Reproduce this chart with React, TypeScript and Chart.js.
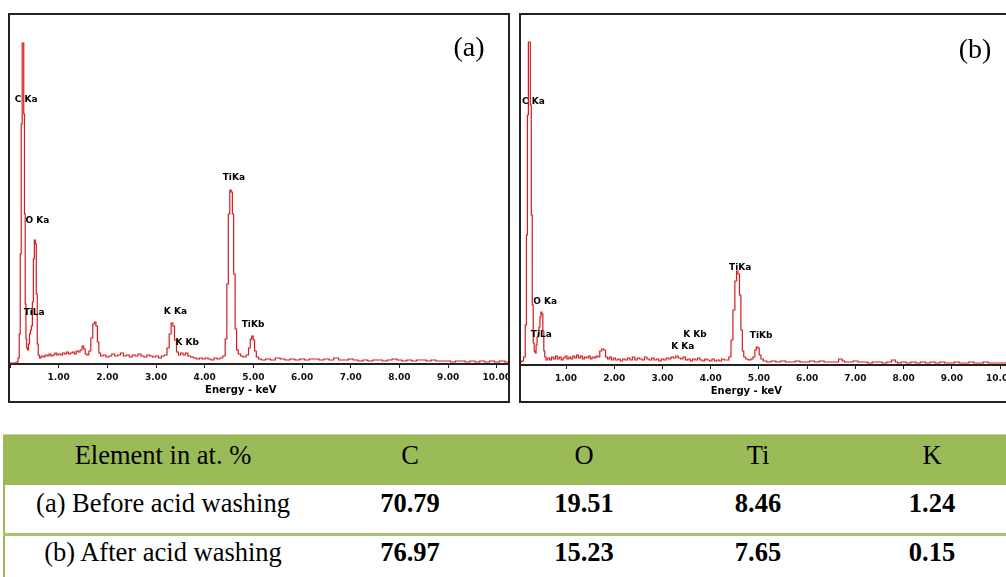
import React, { useEffect, useRef } from "react";
import { Chart, registerables } from "chart.js";

Chart.register(...registerables);

// EDS spectrum (a) before acid washing: [energy keV, counts (arb.)]
const spectrumA: [number, number][] = [
  [0.0, 1], [0.1, 1], [0.15, 2], [0.18, 6], [0.2, 30], [0.22, 110], [0.24, 240], [0.26, 321], [0.275, 321],
  [0.29, 250], [0.305, 150], [0.32, 60], [0.335, 25], [0.35, 16], [0.37, 14], [0.39, 20], [0.41, 30], [0.43, 34],
  [0.45, 38], [0.47, 62], [0.49, 105], [0.51, 124], [0.53, 120], [0.55, 70], [0.57, 20], [0.59, 9], [0.62, 6],
  [0.66, 8], [0.7, 7], [0.74, 9], [0.78, 8], [0.82, 10], [0.86, 8], [0.9, 9], [0.94, 11], [0.98, 9], [1.02, 10],
  [1.06, 9], [1.1, 11], [1.14, 10], [1.18, 12], [1.22, 10], [1.26, 11], [1.3, 12], [1.34, 10], [1.38, 13],
  [1.42, 12], [1.46, 14], [1.5, 18], [1.53, 15], [1.56, 10], [1.6, 9], [1.64, 13], [1.68, 26], [1.72, 40],
  [1.75, 42], [1.78, 38], [1.81, 22], [1.84, 11], [1.88, 8], [1.94, 9], [2.0, 7], [2.06, 8], [2.12, 10],
  [2.18, 8], [2.24, 9], [2.3, 11], [2.36, 8], [2.42, 9], [2.48, 7], [2.54, 9], [2.6, 8], [2.66, 10], [2.72, 8],
  [2.78, 7], [2.84, 9], [2.9, 8], [2.96, 7], [3.02, 8], [3.08, 6], [3.14, 8], [3.2, 9], [3.25, 16], [3.29, 30],
  [3.33, 41], [3.36, 38], [3.4, 24], [3.44, 12], [3.48, 9], [3.53, 11], [3.58, 9], [3.63, 11], [3.68, 8],
  [3.74, 7], [3.8, 6], [3.86, 5], [3.92, 6], [3.98, 5], [4.04, 6], [4.1, 5], [4.16, 4], [4.22, 6], [4.28, 5],
  [4.34, 6], [4.4, 8], [4.44, 25], [4.47, 80], [4.5, 150], [4.53, 174], [4.555, 172], [4.58, 150], [4.61, 90],
  [4.64, 35], [4.67, 14], [4.71, 10], [4.76, 8], [4.82, 7], [4.88, 9], [4.92, 16], [4.95, 25], [4.98, 28],
  [5.01, 24], [5.04, 13], [5.08, 7], [5.13, 5], [5.2, 4], [5.3, 5], [5.4, 4], [5.5, 6], [5.6, 5], [5.7, 4],
  [5.8, 5], [5.9, 4], [6.0, 5], [6.1, 4], [6.2, 5], [6.3, 5], [6.4, 4], [6.5, 5], [6.6, 4], [6.7, 6], [6.8, 4],
  [6.9, 4], [7.0, 5], [7.1, 4], [7.2, 3], [7.3, 4], [7.4, 3], [7.5, 4], [7.6, 4], [7.7, 3], [7.8, 4], [7.9, 5],
  [8.0, 4], [8.1, 3], [8.2, 4], [8.3, 3], [8.4, 4], [8.5, 4], [8.6, 3], [8.7, 4], [8.8, 3], [8.9, 3], [9.0, 3],
  [9.1, 2], [9.2, 3], [9.3, 3], [9.4, 2], [9.5, 3], [9.6, 2], [9.7, 3], [9.8, 2], [9.9, 3], [10.0, 2],
  [10.1, 3], [10.23, 2],
];

// EDS spectrum (b) after acid washing
const spectrumB: [number, number][] = [
  [0.06, 3], [0.1, 4], [0.14, 8], [0.17, 40], [0.19, 130], [0.21, 250], [0.23, 323], [0.25, 323], [0.27, 260],
  [0.29, 150], [0.31, 60], [0.33, 22], [0.35, 14], [0.37, 12], [0.39, 20], [0.41, 28], [0.43, 30], [0.45, 38],
  [0.47, 48], [0.49, 53], [0.51, 51], [0.53, 34], [0.55, 14], [0.57, 8], [0.6, 5],
  [0.64, 7], [0.68, 5], [0.72, 8], [0.76, 6], [0.8, 9], [0.84, 6], [0.88, 8], [0.92, 5], [0.96, 7], [1.0, 9],
  [1.04, 6], [1.08, 8], [1.12, 6], [1.16, 9], [1.2, 7], [1.24, 10], [1.28, 7], [1.32, 9], [1.36, 6], [1.4, 8],
  [1.44, 7], [1.48, 9], [1.52, 6], [1.56, 8], [1.6, 7], [1.64, 9], [1.68, 8], [1.72, 14], [1.76, 16],
  [1.8, 15], [1.84, 8], [1.88, 6], [1.92, 8], [1.96, 5], [2.0, 7], [2.05, 5], [2.1, 6], [2.15, 4], [2.2, 6],
  [2.25, 5], [2.3, 7], [2.35, 5], [2.4, 8], [2.45, 5], [2.5, 7], [2.55, 6], [2.6, 5], [2.65, 8], [2.7, 6],
  [2.75, 5], [2.8, 7], [2.85, 5], [2.9, 6], [2.95, 4], [3.0, 6], [3.05, 5], [3.1, 7], [3.15, 6], [3.2, 8],
  [3.25, 7], [3.3, 9], [3.35, 7], [3.4, 6], [3.45, 8], [3.5, 5], [3.55, 6], [3.6, 4], [3.65, 6], [3.7, 5],
  [3.75, 7], [3.8, 5], [3.85, 4], [3.9, 6], [3.95, 5], [4.0, 4], [4.05, 6], [4.1, 4], [4.15, 5], [4.2, 4],
  [4.25, 6], [4.3, 5], [4.35, 5], [4.4, 8], [4.44, 25], [4.48, 55], [4.52, 84], [4.55, 94], [4.58, 91],
  [4.61, 70], [4.64, 35], [4.67, 14], [4.7, 8], [4.75, 6], [4.8, 5], [4.85, 6], [4.9, 8], [4.93, 15],
  [4.96, 18], [4.99, 17], [5.02, 10], [5.06, 6], [5.12, 4], [5.2, 3], [5.3, 4], [5.4, 3], [5.5, 4], [5.6, 3],
  [5.7, 3], [5.8, 4], [5.9, 3], [6.0, 3], [6.1, 4], [6.2, 3], [6.3, 4], [6.4, 3], [6.5, 3], [6.6, 3],
  [6.7, 6], [6.75, 4], [6.8, 3], [6.9, 3], [7.0, 4], [7.1, 3], [7.2, 3], [7.3, 2], [7.4, 3], [7.5, 3],
  [7.6, 2], [7.7, 3], [7.8, 5], [7.85, 3], [7.9, 2], [8.0, 3], [8.1, 2], [8.2, 3], [8.3, 2], [8.4, 3],
  [8.5, 2], [8.6, 3], [8.7, 2], [8.8, 3], [8.9, 2], [9.0, 2], [9.1, 3], [9.2, 2], [9.3, 2], [9.4, 3],
  [9.5, 2], [9.6, 2], [9.7, 3], [9.8, 2], [9.9, 2], [10.0, 2], [10.2, 2], [10.4, 2],
];

// Peak labels (anchored at energy / count of their left edge)
const peakNames = ["C Ka", "O Ka", "TiLa", "K Ka", "K Kb", "TiKa", "TiKb"];
const peakEnergyA = [0.1, 0.32, 0.28, 3.16, 3.4, 4.37, 4.76];
const peakCountA = [264, 143, 51, 52, 21, 186, 39];
const peakEnergyB = [0.09, 0.32, 0.27, 3.18, 3.43, 4.38, 4.81];
const peakCountB = [263, 63, 30, 18, 30, 97, 29];

const xTitle = "Energy - keV";
const panelLetters = ["(a)", "(b)"];

// Composition table
const tableHeadLabel = "Element in at. %";
const tableElements = ["C", "O", "Ti", "K"];
const sampleNames = ["(a) Before acid washing", "(b) After acid washing"];
const beforeWashing = [70.79, 19.51, 8.46, 1.24];
const afterWashing = [76.97, 15.23, 7.65, 0.15];

type SpectrumProps = {
  data: [number, number][];
  energies: number[];
  counts: number[];
  xMin: number;
  xMax: number;
  yMax: number;
  scaleH: number;
};

function Spectrum({ data, energies, counts, xMin, xMax, yMax, scaleH }: SpectrumProps) {
  const ref = useRef<HTMLCanvasElement>(null);
  useEffect(() => {
    const canvas = ref.current!;
    const labelPlugin = {
      id: "peakLabels",
      afterDatasetsDraw(chart: any) {
        const ctx = chart.ctx;
        const xs = chart.scales.x;
        const ys = chart.scales.y;
        ctx.save();
        ctx.fillStyle = "#000";
        ctx.font = "bold 9px 'DejaVu Sans'";
        ctx.textAlign = "left";
        ctx.textBaseline = "middle";
        peakNames.forEach((n, i) => {
          ctx.fillText(n, xs.getPixelForValue(energies[i]), ys.getPixelForValue(counts[i]));
        });
        ctx.font = "bold 10px 'DejaVu Sans'";
        ctx.textAlign = "center";
        ctx.fillText(xTitle, xs.getPixelForValue(4.74), chart.chartArea.bottom + 26);
        ctx.restore();
      },
    };
    const chart = new Chart(canvas, {
      type: "line",
      data: {
        datasets: [
          {
            data: data.map(([x, y]) => ({ x, y })),
            borderColor: "#d41c1c",
            borderWidth: 1.2,
            pointRadius: 0,
            stepped: "middle",
            fill: false,
          },
        ],
      },
      options: {
        animation: false,
        responsive: false,
        devicePixelRatio: 1,
        layout: { padding: 0 },
        plugins: { legend: { display: false }, tooltip: { enabled: false } },
        scales: {
          x: {
            type: "linear",
            min: xMin,
            max: xMax,
            afterFit: (s: any) => {
              s.height = scaleH;
              s.paddingLeft = 0;
              s.paddingRight = 0;
            },
            ticks: {
              stepSize: 1,
              includeBounds: false,
              autoSkip: false,
              maxRotation: 0,
              padding: 4,
              color: "#111",
              font: { family: "'DejaVu Sans'", size: 9, weight: "bold" },
              callback: (v: any) => (Number(v) === 0 ? "" : Number(v).toFixed(2)),
            },
            grid: { drawOnChartArea: false, drawTicks: true, tickLength: 4, color: "#222", lineWidth: 1 },
            border: { display: true, color: "#222", width: 2 },
          },
          y: { display: false, min: 0, max: yMax },
        },
      } as any,
      plugins: [labelPlugin],
    });
    return () => chart.destroy();
  }, []);
  return <canvas ref={ref} width={498} height={386} style={{ display: "block", width: 498, height: 386 }} />;
}

const serif = "'Liberation Serif', 'Times New Roman', serif";

export default function App() {
  const colLefts = [3, 323, 497, 671, 845];
  const colWidths = [320, 174, 174, 174, 174];
  const rowTops = [440, 488, 537];
  const cell = (text: string, col: number, row: number, bold: boolean) => (
    <div
      key={`${row}-${col}`}
      style={{
        position: "absolute",
        left: colLefts[col],
        top: rowTops[row],
        width: colWidths[col],
        height: 30,
        lineHeight: "30px",
        textAlign: "center",
        fontFamily: serif,
        fontSize: 26.5,
        fontWeight: bold ? "bold" : "normal",
        color: "#000",
        whiteSpace: "nowrap",
      }}
    >
      {text}
    </div>
  );
  return (
    <div
      style={{
        position: "fixed",
        left: 0,
        top: 0,
        width: 1006,
        height: 577,
        overflow: "hidden",
        background: "#fff",
      }}
    >
      {/* Panel (a) */}
      <div
        style={{
          position: "absolute",
          left: 8,
          top: 13,
          width: 502,
          height: 390,
          boxSizing: "border-box",
          border: "2px solid #222",
          overflow: "hidden",
        }}
      >
        <Spectrum data={spectrumA} energies={peakEnergyA} counts={peakCountA} xMin={0} xMax={10.23} yMax={349} scaleH={37} />
      </div>
      {/* Panel (b) */}
      <div
        style={{
          position: "absolute",
          left: 519,
          top: 13,
          width: 502,
          height: 390,
          boxSizing: "border-box",
          border: "2px solid #222",
          overflow: "hidden",
        }}
      >
        <Spectrum data={spectrumB} energies={peakEnergyB} counts={peakCountB} xMin={0.067} xMax={10.39} yMax={350} scaleH={36} />
      </div>
      <div
        style={{
          position: "absolute",
          left: 469,
          top: 47,
          transform: "translate(-50%, -50%)",
          fontFamily: serif,
          fontSize: 28,
          lineHeight: 1,
          color: "#000",
        }}
      >
        {panelLetters[0]}
      </div>
      <div
        style={{
          position: "absolute",
          left: 975,
          top: 49,
          transform: "translate(-50%, -50%)",
          fontFamily: serif,
          fontSize: 28,
          lineHeight: 1,
          color: "#000",
        }}
      >
        {panelLetters[1]}
      </div>

      {/* Table */}
      <div style={{ position: "absolute", left: 3, top: 434, width: 1016, height: 51, background: "#9bbb59", borderTop: "1px solid #c3d69b", boxSizing: "border-box" }} />
      <div style={{ position: "absolute", left: 3, top: 485, width: 2, height: 92, background: "#9bbb59" }} />
      <div style={{ position: "absolute", left: 3, top: 533, width: 1016, height: 3, background: "#a8c46f" }} />
      {cell(tableHeadLabel, 0, 0, false)}
      {tableElements.map((e, i) => cell(e, i + 1, 0, false))}
      {cell(sampleNames[0], 0, 1, false)}
      {beforeWashing.map((v, i) => cell(v.toFixed(2), i + 1, 1, true))}
      {cell(sampleNames[1], 0, 2, false)}
      {afterWashing.map((v, i) => cell(v.toFixed(2), i + 1, 2, true))}
    </div>
  );
}
